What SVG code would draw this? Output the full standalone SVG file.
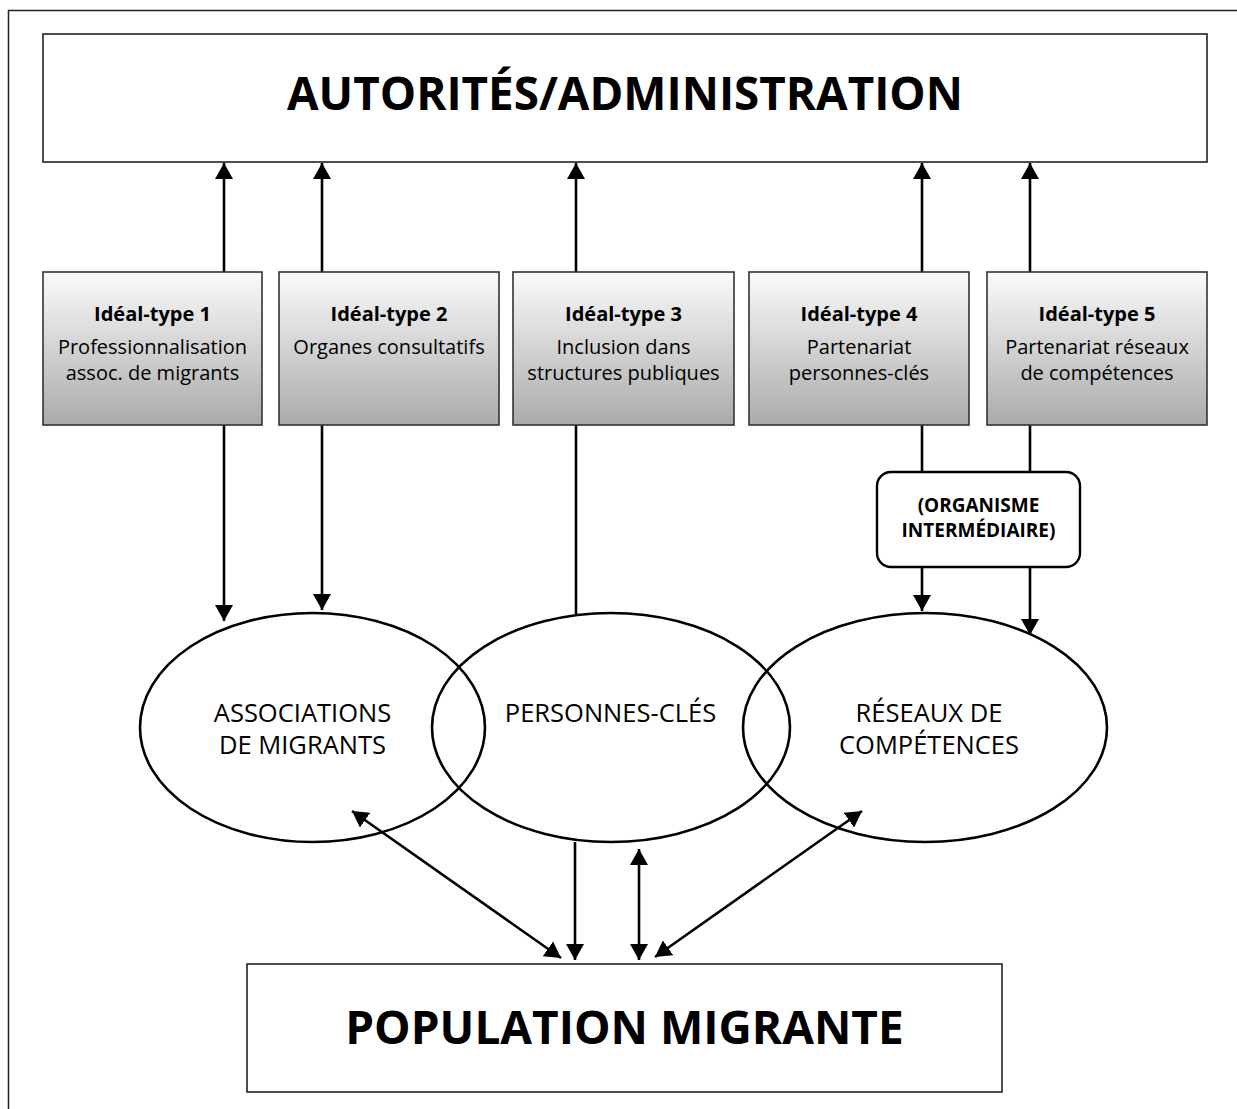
<svg xmlns="http://www.w3.org/2000/svg" width="1237" height="1109" viewBox="0 0 1237 1109">
<style>
.box{fill:#fff;stroke:#222;stroke-width:1.6}
.ideal{fill:url(#g);stroke:#333;stroke-width:1.6}
.ell{fill:none;stroke:#000;stroke-width:2.6}
.ln{fill:none;stroke:#000;stroke-width:2.6}
.t{font-family:"Open Sans","Liberation Sans",sans-serif;fill:#000;text-anchor:middle}
.big{font-size:46px;font-weight:bold}
.hd{font-size:20px;font-weight:bold}
.bd{font-size:20px}
.el{font-size:25.5px}
.org{font-size:19px;font-weight:bold}
</style>
<defs>
<linearGradient id="g" x1="0" y1="0" x2="0" y2="1">
<stop offset="0" stop-color="#fbfbfb"/>
<stop offset="1" stop-color="#aaaaaa"/>
</linearGradient>
<marker id="ah" viewBox="0 0 16 18" refX="16" refY="9" markerWidth="16" markerHeight="18" markerUnits="userSpaceOnUse" orient="auto-start-reverse">
<path d="M0,0 L16,9 L0,18 Z" fill="#000"/>
</marker>
</defs>
<rect width="1237" height="1109" fill="#fff"/>
<path d="M8.5,1109 V10.5 H1237" fill="none" stroke="#222" stroke-width="1.5"/>

<g id="connectors">
<line class="ln" x1="224" y1="272" x2="224" y2="163" marker-end="url(#ah)"/>
<line class="ln" x1="322" y1="272" x2="322" y2="163" marker-end="url(#ah)"/>
<line class="ln" x1="576" y1="272" x2="576" y2="163" marker-end="url(#ah)"/>
<line class="ln" x1="922" y1="272" x2="922" y2="163" marker-end="url(#ah)"/>
<line class="ln" x1="1030" y1="272" x2="1030" y2="163" marker-end="url(#ah)"/>
<line class="ln" x1="224" y1="425" x2="224" y2="621" marker-end="url(#ah)"/>
<line class="ln" x1="322" y1="425" x2="322" y2="610" marker-end="url(#ah)"/>
<line class="ln" x1="576" y1="425" x2="576" y2="614"/>
<line class="ln" x1="922" y1="425" x2="922" y2="472"/>
<line class="ln" x1="1030" y1="425" x2="1030" y2="472"/>
<line class="ln" x1="922" y1="567" x2="922" y2="611" marker-end="url(#ah)"/>
<line class="ln" x1="1030" y1="567" x2="1030" y2="635" marker-end="url(#ah)"/>
<line class="ln" x1="352" y1="811" x2="561" y2="958" marker-start="url(#ah)" marker-end="url(#ah)"/>
<line class="ln" x1="575" y1="842" x2="575" y2="960" marker-end="url(#ah)"/>
<line class="ln" x1="639" y1="849" x2="639" y2="960" marker-start="url(#ah)" marker-end="url(#ah)"/>
<line class="ln" x1="862" y1="811" x2="655" y2="957" marker-start="url(#ah)" marker-end="url(#ah)"/>
</g>

<g id="autorites">
<rect class="box" x="43" y="34" width="1164" height="128"/>
<text class="t big" x="625" y="110" textLength="676" lengthAdjust="spacingAndGlyphs">AUTORITÉS/ADMINISTRATION</text>
</g>

<g id="ideal1">
<rect class="ideal" x="43" y="272" width="219" height="153"/>
<text class="t hd" x="152.5" y="321">Idéal-type 1</text>
<text class="t bd" x="152.5" y="354">Professionnalisation</text>
<text class="t bd" x="152.5" y="380">assoc. de migrants</text>
</g>
<g id="ideal2">
<rect class="ideal" x="279" y="272" width="220" height="153"/>
<text class="t hd" x="389" y="321">Idéal-type 2</text>
<text class="t bd" x="389" y="354">Organes consultatifs</text>
</g>
<g id="ideal3">
<rect class="ideal" x="513" y="272" width="221" height="153"/>
<text class="t hd" x="623.5" y="321">Idéal-type 3</text>
<text class="t bd" x="623.5" y="354">Inclusion dans</text>
<text class="t bd" x="623.5" y="380">structures publiques</text>
</g>
<g id="ideal4">
<rect class="ideal" x="749" y="272" width="220" height="153"/>
<text class="t hd" x="859" y="321">Idéal-type 4</text>
<text class="t bd" x="859" y="354">Partenariat</text>
<text class="t bd" x="859" y="380">personnes-clés</text>
</g>
<g id="ideal5">
<rect class="ideal" x="987" y="272" width="220" height="153"/>
<text class="t hd" x="1097" y="321">Idéal-type 5</text>
<text class="t bd" x="1097" y="354">Partenariat réseaux</text>
<text class="t bd" x="1097" y="380">de compétences</text>
</g>

<g id="organisme">
<rect x="877" y="472" width="203" height="95" rx="14" fill="#fff" stroke="#000" stroke-width="2.4"/>
<text class="t org" x="978.5" y="512">(ORGANISME</text>
<text class="t org" x="978.5" y="537">INTERMÉDIAIRE)</text>
</g>

<g id="associations">
<ellipse class="ell" cx="312.5" cy="727.5" rx="172.5" ry="114.5"/>
<text class="t el" x="302.5" y="722">ASSOCIATIONS</text>
<text class="t el" x="302.5" y="754">DE MIGRANTS</text>
</g>
<g id="personnes">
<ellipse class="ell" cx="611" cy="727.5" rx="179" ry="114.5"/>
<text class="t el" x="610.5" y="722">PERSONNES-CLÉS</text>
</g>
<g id="reseaux">
<ellipse class="ell" cx="925" cy="727.5" rx="182" ry="114.5"/>
<text class="t el" x="929" y="722">RÉSEAUX DE</text>
<text class="t el" x="929" y="754">COMPÉTENCES</text>
</g>

<g id="population">
<rect class="box" x="247" y="964" width="755" height="128"/>
<text class="t big" x="624.5" y="1044">POPULATION MIGRANTE</text>
</g>
</svg>
